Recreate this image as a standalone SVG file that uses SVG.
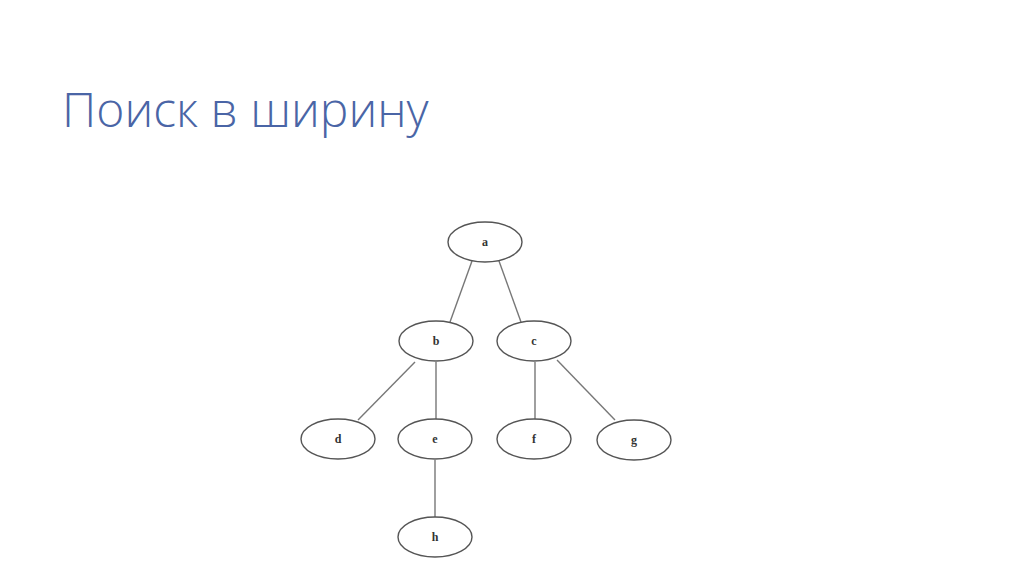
<svg xmlns="http://www.w3.org/2000/svg" width="1024" height="574" viewBox="0 0 1024 574">
<style>
.node ellipse{fill:#fff;stroke:#555;stroke-width:1.4}
.node text{font-family:"Liberation Serif",serif;font-weight:bold;font-size:12px;fill:#333;text-anchor:middle}
.edges line{stroke:#777;stroke-width:1.4}
.title{font-family:"Open Sans","Noto Sans",sans-serif;font-weight:300;font-size:48px;fill:#4a65a6}
</style>
<rect width="1024" height="574" fill="#fff"/>
<text class="title" x="62" y="127">Поиск в ширину</text>
<g class="edges">
<line x1="472" y1="261" x2="450" y2="322"/>
<line x1="499" y1="261" x2="521" y2="322"/>
<line x1="415" y1="362" x2="358" y2="420"/>
<line x1="436" y1="362" x2="436" y2="419"/>
<line x1="535" y1="362" x2="535" y2="419"/>
<line x1="557" y1="360" x2="615" y2="420"/>
<line x1="435" y1="460" x2="435" y2="517"/>
</g>
<g id="node-a" class="node"><ellipse cx="485" cy="242" rx="37" ry="20"/><text x="485" y="246">a</text></g>
<g id="node-b" class="node"><ellipse cx="436" cy="341" rx="37" ry="20"/><text x="436" y="345">b</text></g>
<g id="node-c" class="node"><ellipse cx="534" cy="341" rx="37" ry="20"/><text x="534" y="345">c</text></g>
<g id="node-d" class="node"><ellipse cx="338" cy="439" rx="37" ry="20"/><text x="338" y="443">d</text></g>
<g id="node-e" class="node"><ellipse cx="435" cy="439" rx="37" ry="20"/><text x="435" y="443">e</text></g>
<g id="node-f" class="node"><ellipse cx="534" cy="439" rx="37" ry="20"/><text x="534" y="443">f</text></g>
<g id="node-g" class="node"><ellipse cx="634" cy="440" rx="37" ry="20"/><text x="634" y="444">g</text></g>
<g id="node-h" class="node"><ellipse cx="435" cy="537" rx="37" ry="20"/><text x="435" y="541">h</text></g>
</svg>
